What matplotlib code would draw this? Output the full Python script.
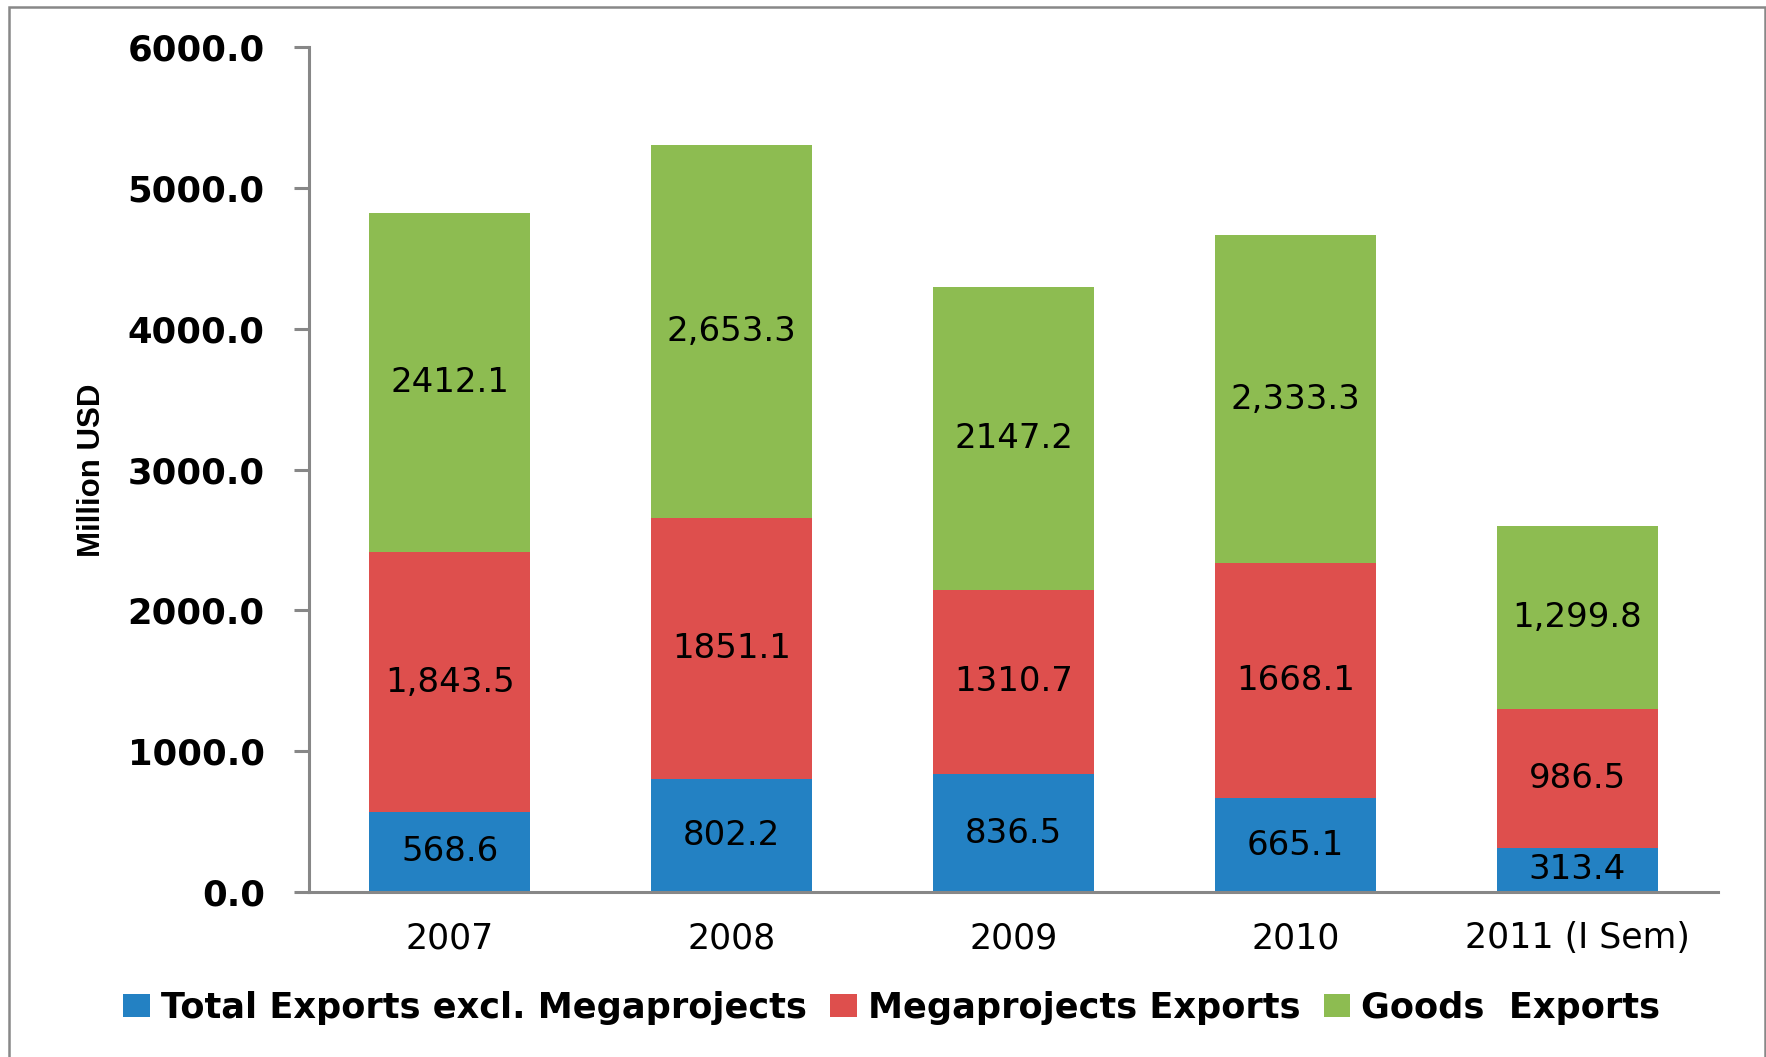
import numpy as np
import matplotlib.pyplot as plt
from matplotlib.patches import Rectangle

years = ['2007', '2008', '2009', '2010', '2011 (I Sem)']
excl_mega = [568.6, 802.2, 836.5, 665.1, 313.4]
mega = [1843.5, 1851.1, 1310.7, 1668.1, 986.5]
goods = [2412.1, 2653.3, 2147.2, 2333.3, 1299.8]

# value labels as printed on the chart (mixed formats)
excl_mega_lbl = ['568.6', '802.2', '836.5', '665.1', '313.4']
mega_lbl = ['1,843.5', '1851.1', '1310.7', '1668.1', '986.5']
goods_lbl = ['2412.1', '2,653.3', '2147.2', '2,333.3', '1,299.8']

names = ['Total Exports excl. Megaprojects', 'Megaprojects Exports', 'Goods  Exports']
colors = ['#2381C3', '#DE4F4D', '#8DBC51']
yticks = [0, 1000, 2000, 3000, 4000, 5000, 6000]

W, H = 1766, 1057
gray = '#878787'

fig = plt.figure(figsize=(W/100, H/100), dpi=100)
ax = fig.add_axes([309/W, 1-892/H, 1409/W, 845/H])

x = np.arange(len(years))
bottom = np.zeros(len(years))
for vals, lbls, col, name in zip([excl_mega, mega, goods],
                                 [excl_mega_lbl, mega_lbl, goods_lbl],
                                 colors, names):
    bars = ax.bar(x, vals, 0.572, bottom=bottom, color=col, label=name)
    ax.bar_label(bars, labels=lbls, label_type='center', fontsize=24.5, color='black')
    bottom += np.array(vals)

ax.set_xlim(-0.5, 4.5)
ax.set_ylim(0, 6000)
ax.set_xticks(x)
ax.set_xticklabels(years, fontsize=25)
ax.set_yticks(yticks)
ax.set_yticklabels(['%.1f' % v for v in yticks], fontsize=25.5, fontweight='bold')

for s in ['top', 'right']:
    ax.spines[s].set_visible(False)
for s in ['left', 'bottom']:
    ax.spines[s].set_color(gray)
    ax.spines[s].set_linewidth(2.2)
ax.tick_params(axis='y', length=10.8, width=2.2, color=gray, pad=21)
ax.tick_params(axis='x', length=0, pad=21)

fig.text(92/W, 1-470/H, 'Million USD', rotation=90, ha='center', va='center',
         fontsize=22.5, fontweight='bold', family='Liberation Sans')

fig.legend(loc='center', bbox_to_anchor=(0.505, 1-1008/H), ncol=3, frameon=False,
           prop={'weight': 'bold', 'size': 25.3}, handlelength=0.75, handleheight=0.6,
           handletextpad=0.32, columnspacing=0.67)

# outer frame (bottom edge falls outside the picture)
fig.add_artist(Rectangle((9/W, -0.05), (1765-9)/W, 1-7/H+0.05, transform=fig.transFigure,
                         fill=False, edgecolor='#888888', lw=1.8, clip_on=False))

fig.savefig('out.png', dpi=100)
